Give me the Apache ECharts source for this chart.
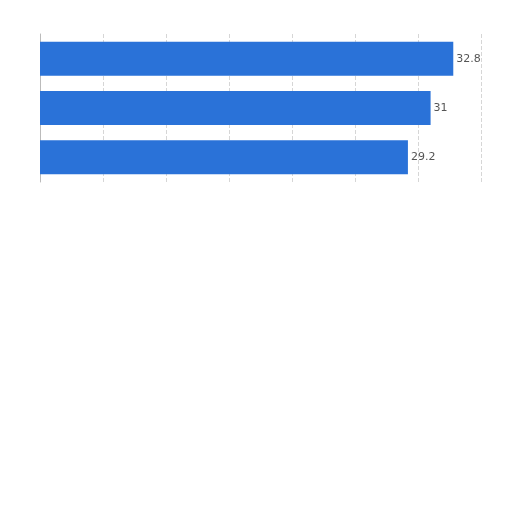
<!DOCTYPE html>
<html>
<head>
<meta charset="utf-8">
<style>
  html, body { margin: 0; padding: 0; background: #fff; }
  #chart { width: 512px; height: 512px; }
</style>
<script src="https://cdn.jsdelivr.net/npm/echarts@6/dist/echarts.min.js"></script>
</head>
<body>
<div id="chart"></div>
<script>
/* ================================
   DATA
================================ */
const categories = ["1", "2", "3"];
const values     = [32.8, 31, 29.2];

/* ================================
   CHART
================================ */
const chart = echarts.init(document.getElementById("chart"));

chart.setOption({
  animation: false,
  grid: { left: 40, right: 31, top: 34, bottom: 330 },
  xAxis: {
    type: "value",
    min: 0,
    max: 35,
    interval: 5,
    axisLine: { show: false },
    axisTick: { show: false },
    axisLabel: { show: false },
    splitLine: { lineStyle: { type: "dashed", color: "#d6d6d6" } }
  },
  yAxis: {
    type: "category",
    inverse: true,
    data: categories,
    axisLine: { lineStyle: { color: "#bbbbbb" } },
    axisTick: { show: false },
    axisLabel: { show: false }
  },
  series: [{
    type: "bar",
    data: values,
    barWidth: 34,
    itemStyle: { color: "#2a72d8" },
    label: {
      show: true,
      position: "right",
      distance: 3,
      color: "#555",
      fontSize: 11,
      fontFamily: "DejaVu Sans"
    }
  }]
});
</script>
</body>
</html>
